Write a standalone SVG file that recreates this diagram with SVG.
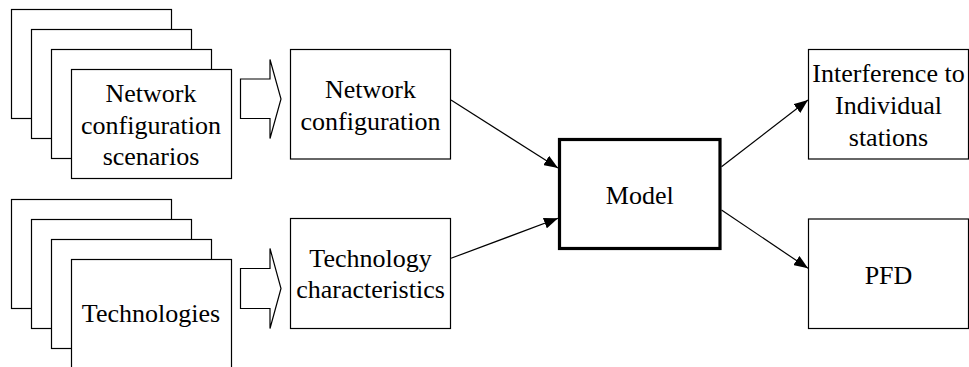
<svg xmlns="http://www.w3.org/2000/svg" width="969" height="367" viewBox="0 0 969 367">
<defs>
<style>
.box{fill:#fff;stroke:#000;stroke-width:1.2}
.thick{fill:#fff;stroke:#000;stroke-width:3.2}
.conn{stroke:#000;stroke-width:1.2;fill:none}
.blk{fill:#fff;stroke:#000;stroke-width:1.2;stroke-linejoin:miter}
</style>
<marker id="ah" markerWidth="14" markerHeight="11" refX="14" refY="5.5" orient="auto" markerUnits="userSpaceOnUse">
<path d="M0,0 L14,5.5 L0,11 Z" fill="#000"/>
</marker>
</defs>
<rect width="969" height="367" fill="#fff"/>
<g font-family="Liberation Serif, DejaVu Serif, serif" font-size="26" text-anchor="middle" fill="#000">
<g id="scenarios">
<rect class="box" x="11.5" y="9.5" width="160" height="109"/>
<rect class="box" x="31.5" y="29.5" width="160" height="109"/>
<rect class="box" x="51.5" y="49.5" width="160" height="109"/>
<rect class="box" x="71.5" y="69.5" width="160" height="109"/>
<text x="151" y="102">Network</text>
<text x="151" y="134">configuration</text>
<text x="151" y="165">scenarios</text>
</g>
<g id="technologies">
<rect class="box" x="11.5" y="199.5" width="160" height="109"/>
<rect class="box" x="31.5" y="219.5" width="160" height="109"/>
<rect class="box" x="51.5" y="239.5" width="160" height="109"/>
<rect class="box" x="71.5" y="259.5" width="160" height="109"/>
<text x="151" y="322">Technologies</text>
</g>
<g id="blockarrow1">
<path class="blk" d="M240.5,79 L270,79 L270,59.5 L281,99 L270,138.5 L270,118.5 L240.5,118.5 Z"/>
</g>
<g id="blockarrow2">
<path class="blk" d="M240.5,268.5 L270,268.5 L270,248.5 L281,288.5 L270,328.5 L270,308.5 L240.5,308.5 Z"/>
</g>
<g id="netconf">
<rect class="box" x="290.5" y="49.5" width="160" height="109.5"/>
<text x="370.5" y="98">Network</text>
<text x="370.5" y="130">configuration</text>
</g>
<g id="techchar">
<rect class="box" x="290.5" y="218.5" width="160" height="110"/>
<text x="370.5" y="267">Technology</text>
<text x="370.5" y="298">characteristics</text>
</g>
<g id="model">
<rect class="thick" x="559.5" y="139.5" width="160.5" height="109"/>
<text x="639.8" y="204">Model</text>
</g>
<g id="interference">
<rect class="box" x="808.5" y="49.5" width="160" height="109.5"/>
<text x="888.5" y="81.7">Interference to</text>
<text x="888.5" y="113.5">Individual</text>
<text x="888.5" y="145.5">stations</text>
</g>
<g id="pfd">
<rect class="box" x="808.5" y="219" width="160" height="109.5"/>
<text x="888.5" y="283.5">PFD</text>
</g>
</g>
<g id="connectors">
<line class="conn" x1="451" y1="100" x2="558" y2="168" marker-end="url(#ah)"/>
<line class="conn" x1="451" y1="258.3" x2="558" y2="218.3" marker-end="url(#ah)"/>
<line class="conn" x1="721.5" y1="166.7" x2="808" y2="100" marker-end="url(#ah)"/>
<line class="conn" x1="721.5" y1="210" x2="808" y2="268.3" marker-end="url(#ah)"/>
</g>
</svg>
